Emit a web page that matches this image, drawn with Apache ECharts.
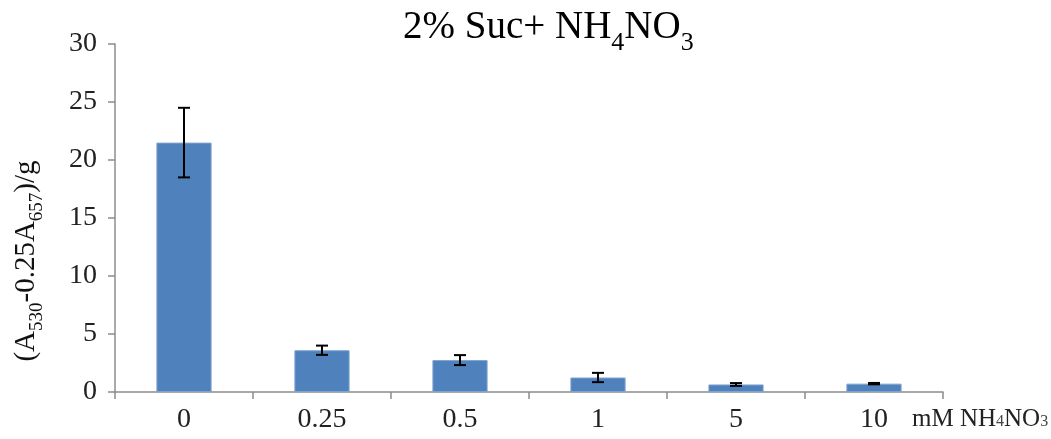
<!DOCTYPE html>
<html>
<head>
<meta charset="utf-8">
<script src="https://cdn.jsdelivr.net/npm/echarts@6/dist/echarts.min.js"></script>
<style>
  html, body { margin: 0; padding: 0; background: #fff; }
  #main { width: 1051px; height: 439px; }
</style>
</head>
<body>
<div id="main"></div>
<script>
// 数据
var categories = ["0", "0.25", "0.5", "1", "5", "10"];
var means = [21.5, 3.6, 2.75, 1.25, 0.65, 0.72];
var errors = [3.0, 0.4, 0.43, 0.4, 0.12, 0.06];
var yTicks = { min: 0, max: 30, interval: 5 };

var serif = "Liberation Serif";
var errData = means.map(function (m, i) {
  return [i, m - errors[i], m + errors[i]];
});

var chart = echarts.init(document.getElementById("main"));
chart.setOption({
  animation: false,
  textStyle: { fontFamily: serif, fontWeight: 400 },
  title: {
    text: "{a|2% Suc+ NH}{s|4}{a|NO}{s|3}",
    left: 398,
    top: 3,
    textStyle: {
      fontWeight: 400,
      rich: {
        a: { fontFamily: serif, fontSize: 39, fontWeight: 400, color: "#000", verticalAlign: "bottom", padding: [0, 0, 9, 0] },
        s: { fontFamily: serif, fontSize: 26, fontWeight: 400, color: "#000", verticalAlign: "bottom" }
      }
    }
  },
  grid: { left: 115, right: 108, top: 44, bottom: 47, outerBoundsMode: "none", containLabel: false },
  xAxis: {
    type: "category",
    data: categories,
    name: "{a|mM NH}{s|4}{a|NO}{s|3}",
    nameLocation: "end",
    nameGap: -31,
    nameTextStyle: {
      align: "left",
      verticalAlign: "top",
      fontWeight: 400,
      padding: [15, 0, 0, 0],
      rich: {
        a: { fontFamily: serif, fontSize: 25, fontWeight: 400, color: "#222", verticalAlign: "bottom" },
        s: { fontFamily: serif, fontSize: 16, fontWeight: 400, color: "#444", verticalAlign: "bottom", padding: [0, 0, 2, 0] }
      }
    },
    axisLine: { lineStyle: { color: "#8c8c8c", width: 1.5 } },
    axisTick: { show: true, length: 7, lineStyle: { color: "#8c8c8c", width: 1.5 } },
    axisLabel: { fontFamily: serif, fontSize: 28, color: "#222", margin: 14 }
  },
  yAxis: {
    type: "value",
    min: yTicks.min,
    max: yTicks.max,
    interval: yTicks.interval,
    name: "{a|(A}{s|530}{a|-0.25A}{s|657}{a|)/g}",
    nameLocation: "middle",
    nameRotate: 90,
    nameGap: 68,
    nameTextStyle: {
      fontWeight: 400,
      color: "#111",
      padding: [0, 86, 0, 0],
      rich: {
        a: { fontFamily: serif, fontSize: 29, fontWeight: 400, color: "#111", verticalAlign: "bottom", padding: [0, 0, 6, 0] },
        s: { fontFamily: serif, fontSize: 19, fontWeight: 400, color: "#111", verticalAlign: "bottom" }
      }
    },
    axisLine: { show: true, lineStyle: { color: "#8c8c8c", width: 1.5 } },
    axisTick: { show: true, length: 7, lineStyle: { color: "#8c8c8c", width: 1.5 } },
    splitLine: { show: false },
    axisLabel: { fontFamily: serif, fontSize: 28, color: "#222", margin: 18 }
  },
  series: [
    {
      type: "bar",
      data: means,
      barWidth: "40%",
      itemStyle: { color: "#4F81BD", borderColor: "#7FA3CF", borderWidth: 1 }
    },
    {
      type: "custom",
      data: errData,
      encode: { x: 0, y: [1, 2] },
      z: 10,
      renderItem: function (params, api) {
        var i = api.value(0);
        var lo = api.coord([i, api.value(1)]);
        var hi = api.coord([i, api.value(2)]);
        var w = 6;
        var st = { stroke: "#000", lineWidth: 2 };
        return {
          type: "group",
          children: [
            { type: "line", shape: { x1: hi[0], y1: hi[1], x2: lo[0], y2: lo[1] }, style: st },
            { type: "line", shape: { x1: hi[0] - w, y1: hi[1], x2: hi[0] + w, y2: hi[1] }, style: st },
            { type: "line", shape: { x1: lo[0] - w, y1: lo[1], x2: lo[0] + w, y2: lo[1] }, style: st }
          ]
        };
      }
    }
  ]
});
</script>
</body>
</html>
